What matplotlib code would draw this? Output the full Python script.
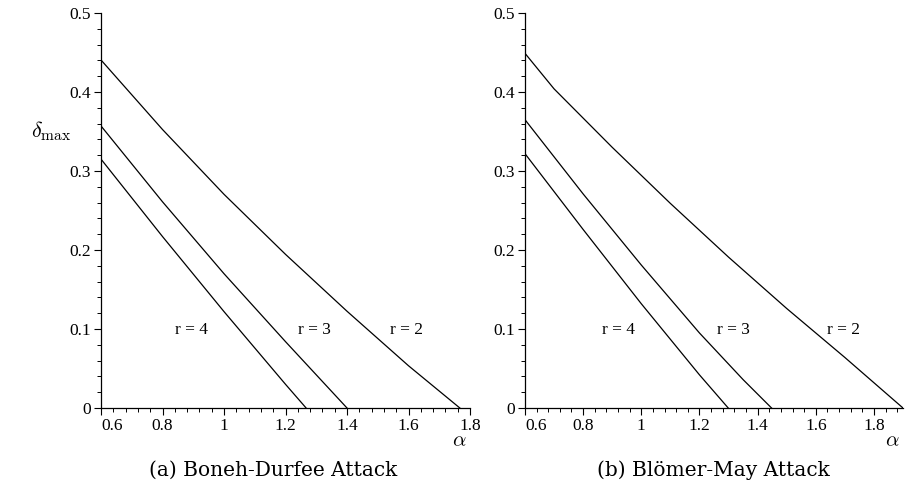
import numpy as np
import matplotlib
matplotlib.use("Agg")
import matplotlib.pyplot as plt
from matplotlib.ticker import MultipleLocator

plt.rcParams['mathtext.fontset'] = 'cm'
plt.rcParams['font.family'] = ['Liberation Serif', 'DejaVu Serif']

# Boneh-Durfee attack (left)
bd_r2_a = [0.6, 0.8, 1.0, 1.2, 1.4, 1.6, 1.767]
bd_r2_d = [0.4405, 0.3525, 0.2705, 0.1945, 0.1225, 0.0535, 0.0]
bd_r3_a = [0.6, 0.8, 1.0, 1.2, 1.40]
bd_r3_d = [0.357, 0.261, 0.170, 0.084, 0.0]
bd_r4_a = [0.6, 0.8, 1.0, 1.2, 1.267]
bd_r4_d = [0.315, 0.217, 0.122, 0.030, 0.0]

# Blomer-May attack (right)
bm_r2_a = [0.6, 0.7, 0.9, 1.1, 1.3, 1.5, 1.7, 1.9]
bm_r2_d = [0.449, 0.404, 0.330, 0.259, 0.191, 0.126, 0.064, 0.0]
bm_r3_a = [0.6, 0.8, 1.0, 1.2, 1.35, 1.448]
bm_r3_d = [0.365, 0.271, 0.181, 0.095, 0.036, 0.0]
bm_r4_a = [0.6, 0.8, 1.0, 1.2, 1.299]
bm_r4_d = [0.322, 0.226, 0.132, 0.042, 0.0]

bd_labels = [("r = 4", 0.893), ("r = 3", 1.293), ("r = 2", 1.592)]
bm_labels = [("r = 4", 0.92), ("r = 3", 1.316), ("r = 2", 1.697)]

fig = plt.figure(figsize=(9.07, 4.91), dpi=100)
ax1 = fig.add_axes([0.1114, 0.169, 0.4068, 0.8045])
ax2 = fig.add_axes([0.5788, 0.169, 0.4168, 0.8045])

panels = [
    (ax1, [(bd_r2_a, bd_r2_d), (bd_r3_a, bd_r3_d), (bd_r4_a, bd_r4_d)], bd_labels, 1.8,
     "(a) Boneh-Durfee Attack", 0.301),
    (ax2, [(bm_r2_a, bm_r2_d), (bm_r3_a, bm_r3_d), (bm_r4_a, bm_r4_d)], bm_labels, 1.9,
     "(b) Blömer-May Attack", 0.786),
]

for ax, curves, labels, xmax, caption, cx in panels:
    for a, d in curves:
        ax.plot(a, d, color='black', lw=0.9)
    for txt, xa in labels:
        ax.text(xa, 0.099, txt, ha='center', va='center', fontsize=12.5)
    ax.set_xlim(0.6, xmax)
    ax.set_ylim(0, 0.5)
    ax.spines['top'].set_visible(False)
    ax.spines['right'].set_visible(False)
    ax.spines['left'].set_linewidth(0.9)
    ax.spines['bottom'].set_linewidth(0.9)
    ax.set_xticks([0.6, 0.8, 1.0, 1.2, 1.4, 1.6, 1.8])
    ax.set_xticklabels(['0.6', '0.8', '1', '1.2', '1.4', '1.6', '1.8'])
    ax.set_yticks([0, 0.1, 0.2, 0.3, 0.4, 0.5])
    ax.set_yticklabels(['0', '0.1', '0.2', '0.3', '0.4', '0.5'])
    ax.xaxis.set_minor_locator(MultipleLocator(0.04))
    ax.yaxis.set_minor_locator(MultipleLocator(0.02))
    ax.tick_params(which='major', direction='out', length=5, width=0.8, labelsize=12.5, pad=2)
    ax.tick_params(which='minor', direction='out', length=3, width=0.7)
    ax.get_xticklabels()[0].set_ha('left')
    ax.text(0.99, -0.085, r'$\alpha$', transform=ax.transAxes, ha='right', va='center',
            fontsize=15)
    fig.text(cx, 0.042, caption, ha='center', va='center', fontsize=14.5,
             family=['DejaVu Serif'])

ax1.text(-0.135, 0.70, r'$\delta_{\max}$', transform=ax1.transAxes, ha='center',
         va='center', fontsize=16)

fig.savefig("out.png", dpi=100)
